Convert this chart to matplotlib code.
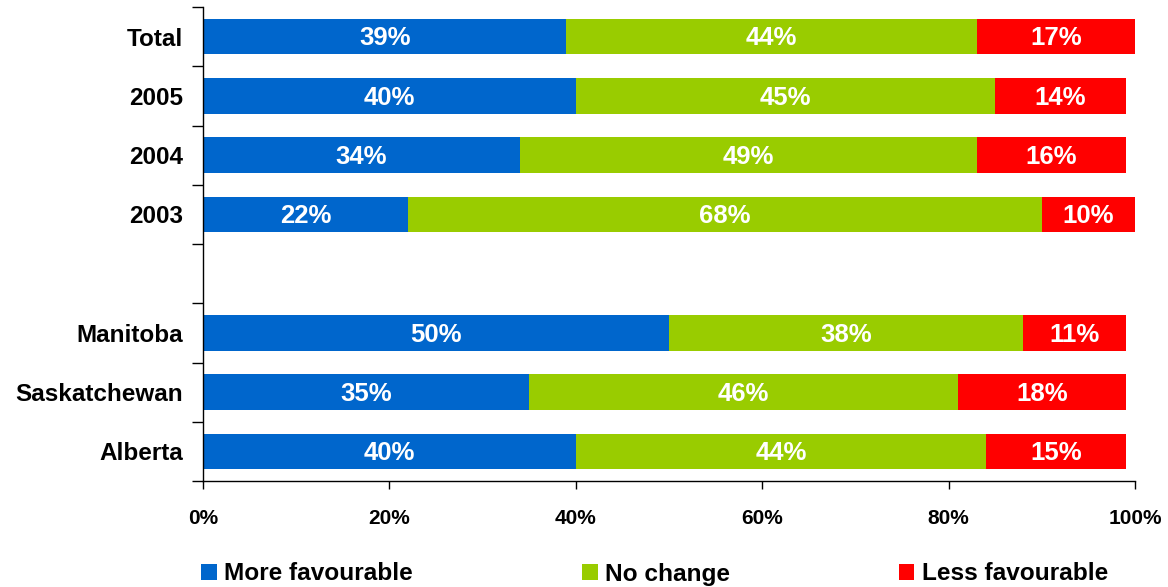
import matplotlib
matplotlib.use("Agg")
import matplotlib.pyplot as plt
from matplotlib.patches import Patch
import numpy as np

plt.rcParams['font.family'] = ['Liberation Sans', 'DejaVu Sans']
plt.rcParams['font.weight'] = 'bold'

categories = ["Total", "2005", "2004", "2003", "", "Manitoba", "Saskatchewan", "Alberta"]
more_fav = [39, 40, 34, 22, None, 50, 35, 40]
no_change = [44, 45, 49, 68, None, 38, 46, 44]
less_fav = [17, 14, 16, 10, None, 11, 18, 15]
series_names = ["More favourable", "No change", "Less favourable"]
colors = ["#0066CC", "#99CC00", "#FF0000"]
xticks = [0, 20, 40, 60, 80, 100]

fig = plt.figure(figsize=(11.68, 5.87), dpi=100)
ax = fig.add_axes([203/1168, 1 - 481/587, (1135-203)/1168, (481-7)/587])

pos = np.arange(len(categories))
left = np.zeros(len(categories))
for vals, name, col in zip([more_fav, no_change, less_fav], series_names, colors):
    v = np.array([x if x is not None else 0 for x in vals], dtype=float)
    ax.barh(pos, v, left=left, height=0.6, color=col, label=name)
    for p, val, l in zip(pos, v, left):
        if val > 0:
            ax.text(l + val / 2, p + 0.03, f"{int(val)}%", ha='center', va='center',
                    color='white', fontsize=18.5, fontweight='bold')
    left += v

ax.set_xlim(0, 100)
ax.set_ylim(len(categories) - 0.5, -0.5)
ax.set_xticks(xticks)
ax.set_xticklabels([f"{t}%" for t in xticks], fontsize=15, fontweight='bold')
ax.tick_params(axis='x', direction='out', length=6, width=1, pad=14)

ax.set_yticks(np.arange(-0.5, len(categories) + 0.5, 1))
ax.set_yticklabels([])
ax.tick_params(axis='y', which='major', direction='out', length=8, width=1)
ax.set_yticks(pos, minor=True)
ax.set_yticklabels(categories, minor=True, fontsize=17.5, fontweight='bold')
ax.tick_params(axis='y', which='minor', length=0, pad=14.5)

for s in ['top', 'right']:
    ax.spines[s].set_visible(False)
ax.spines['left'].set_linewidth(1)
ax.spines['bottom'].set_linewidth(1)

handles = [Patch(facecolor=c, edgecolor='none') for c in colors]
fig.legend(handles, series_names, loc='center left',
           bbox_to_anchor=(201/1168, 1 - 574/587), ncol=3, frameon=False,
           handlelength=0.65, handleheight=0.65, handletextpad=0.3,
           columnspacing=6.9, borderpad=0, borderaxespad=0,
           prop={'weight': 'bold', 'size': 17.6})

fig.savefig("out.png", dpi=100)
